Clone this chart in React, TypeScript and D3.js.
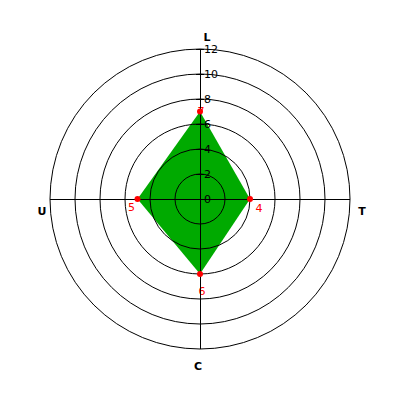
import React from "react";
import * as d3 from "d3";

const axes = ["L", "T", "C", "U"];
const values = [7, 4, 6, 5];
const ringTicks = [0, 2, 4, 6, 8, 10, 12];

export default function App() {
  const cx = 200, cy = 199, R = 150;
  const r = d3.scaleLinear().domain([0, 12]).range([0, R]);
  const angle = (i: number) => (i * Math.PI * 2) / axes.length; // clockwise from top
  const pt = (i: number, v: number) => [cx + r(v) * Math.sin(angle(i)), cy - r(v) * Math.cos(angle(i))];
  const pts = values.map((v, i) => pt(i, v));
  const poly = d3.line()(pts.concat([pts[0]]) as [number, number][]) + "Z";
  const labelOff: [number, number][] = [[1, 3], [9, 13], [2, 21], [-6, 12]];
  const axisLblPos: [number, number][] = [[7, -158], [162, 16], [-2, 171], [-158, 16]];
  return (
    <svg width={400} height={400} style={{ position: "absolute", left: 0, top: 0, fontFamily: "DejaVu Sans, sans-serif" }}>
      <rect width={400} height={400} fill="#fff" />
      {values.map((v, i) => (
        <text key={"v" + i} x={pts[i][0] + labelOff[i][0]} y={pts[i][1] + labelOff[i][1]} fill="#ff0000" fontSize={11} textAnchor="middle">{v}</text>
      ))}
      <path d={poly} fill="#00aa00" stroke="none" />
      {ringTicks.slice(1).map((t) => (
        <circle key={"c" + t} cx={cx} cy={cy} r={r(t)} fill="none" stroke="#000" strokeWidth={1} />
      ))}
      <line x1={cx} y1={cy - R} x2={cx} y2={cy + R} stroke="#000" shapeRendering="crispEdges" />
      <line x1={cx - R} y1={cy} x2={cx + R} y2={cy} stroke="#000" shapeRendering="crispEdges" />
      {ringTicks.map((t) => (
        <g key={"t" + t}>
          <line x1={cx - 4} x2={cx + 4} y1={cy - r(t)} y2={cy - r(t)} stroke="#000" shapeRendering="crispEdges" />
          <text x={cx + 4} y={cy - r(t) + 4} fontSize={11} fill="#000">{t}</text>
        </g>
      ))}
      {pts.map((p, i) => (
        <circle key={"m" + i} cx={p[0]} cy={p[1]} r={3} fill="#ff0000" />
      ))}
      {axes.map((a, i) => (
        <text key={"a" + a} x={cx + axisLblPos[i][0]} y={cy + axisLblPos[i][1]} fontSize={11} fontWeight="bold" textAnchor="middle" fill="#000">{a}</text>
      ))}
    </svg>
  );
}
